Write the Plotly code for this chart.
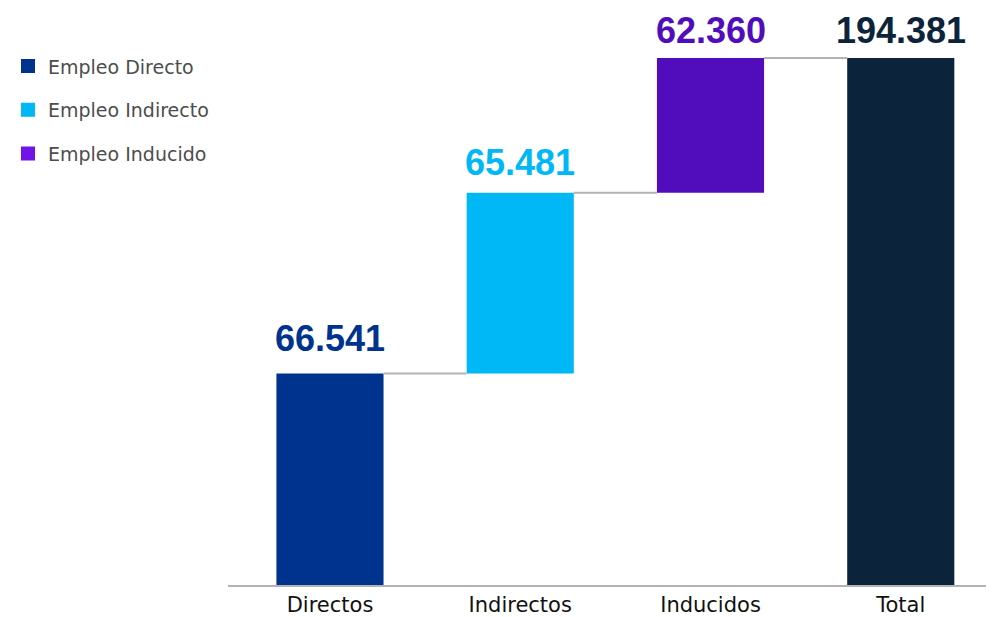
import plotly.graph_objects as go

# ---- data ----
categories = ["Directos", "Indirectos", "Inducidos", "Total"]
label_values = ["66.541", "65.481", "62.360", "194.381"]
# bar heights as drawn in the picture (scale)
bar_heights = [78000, 66700, 49681]
total_value = 194381
legend_names = ["Empleo Directo", "Empleo Indirecto", "Empleo Inducido"]

# ---- style ----
bar_colors = ["#00338D", "#00B8F5", "#510DBC", "#0C233C"]
legend_colors = ["#00338D", "#00B8F5", "#7213EA"]
label_shift = [13, 8, 5, 5]
bar_w = 0.563

fig = go.Figure()

bases = []
cum = 0
for h in bar_heights:
    bases.append(cum)
    cum += h

for i, h in enumerate(bar_heights):
    fig.add_trace(go.Bar(
        x=[i], y=[h], base=[bases[i]], width=bar_w,
        marker=dict(color=bar_colors[i], line=dict(width=0)),
        showlegend=False, hoverinfo="skip"))

fig.add_trace(go.Bar(
    x=[3], y=[total_value], base=[0], width=bar_w,
    marker=dict(color=bar_colors[3], line=dict(width=0)),
    showlegend=False, hoverinfo="skip"))

# legend entries
for i, name in enumerate(legend_names):
    fig.add_trace(go.Scatter(
        x=[None], y=[None], name=name, legendgroup=name, mode="markers",
        marker=dict(color=legend_colors[i], symbol="square", size=14),
        showlegend=True))

# connectors
tops = [bases[i] + bar_heights[i] for i in range(len(bar_heights))]
for i, t in enumerate(tops):
    fig.add_trace(go.Scatter(
        x=[i + bar_w / 2, i + 1 - bar_w / 2], y=[t, t], mode="lines",
        line=dict(color="#b3b3b3", width=2), showlegend=False, hoverinfo="skip"))

# value labels
all_tops = tops + [total_value]
for i, txt in enumerate(label_values):
    fig.add_annotation(
        x=i, y=all_tops[i], text=f"<b>{txt}</b>", showarrow=False,
        yanchor="bottom", yshift=label_shift[i],
        font=dict(family="Liberation Sans, Arial", size=36, color=bar_colors[i]))

fig.update_layout(
    width=986, height=609,
    margin=dict(l=220, r=0, t=0, b=30),
    plot_bgcolor="white", paper_bgcolor="white",
    barmode="overlay",
    showlegend=True,
    legend=dict(
        x=-0.2872, y=0.932, xanchor="left", yanchor="top",
        traceorder="grouped", tracegroupgap=16,
        font=dict(family="DejaVu Sans", size=19, color="#4d4d4d"),
        itemwidth=30),
    xaxis=dict(
        range=[-0.536, 3.49], tickmode="array",
        tickvals=list(range(len(categories))), ticktext=categories,
        showline=True, linecolor="#b3b3b3", linewidth=2,
        showgrid=False, zeroline=False, ticks="",
        tickfont=dict(family="DejaVu Sans", size=21, color="#111111")),
    yaxis=dict(range=[0, 212800], visible=False, showgrid=False, zeroline=False),
)

fig.write_html("out.html")
